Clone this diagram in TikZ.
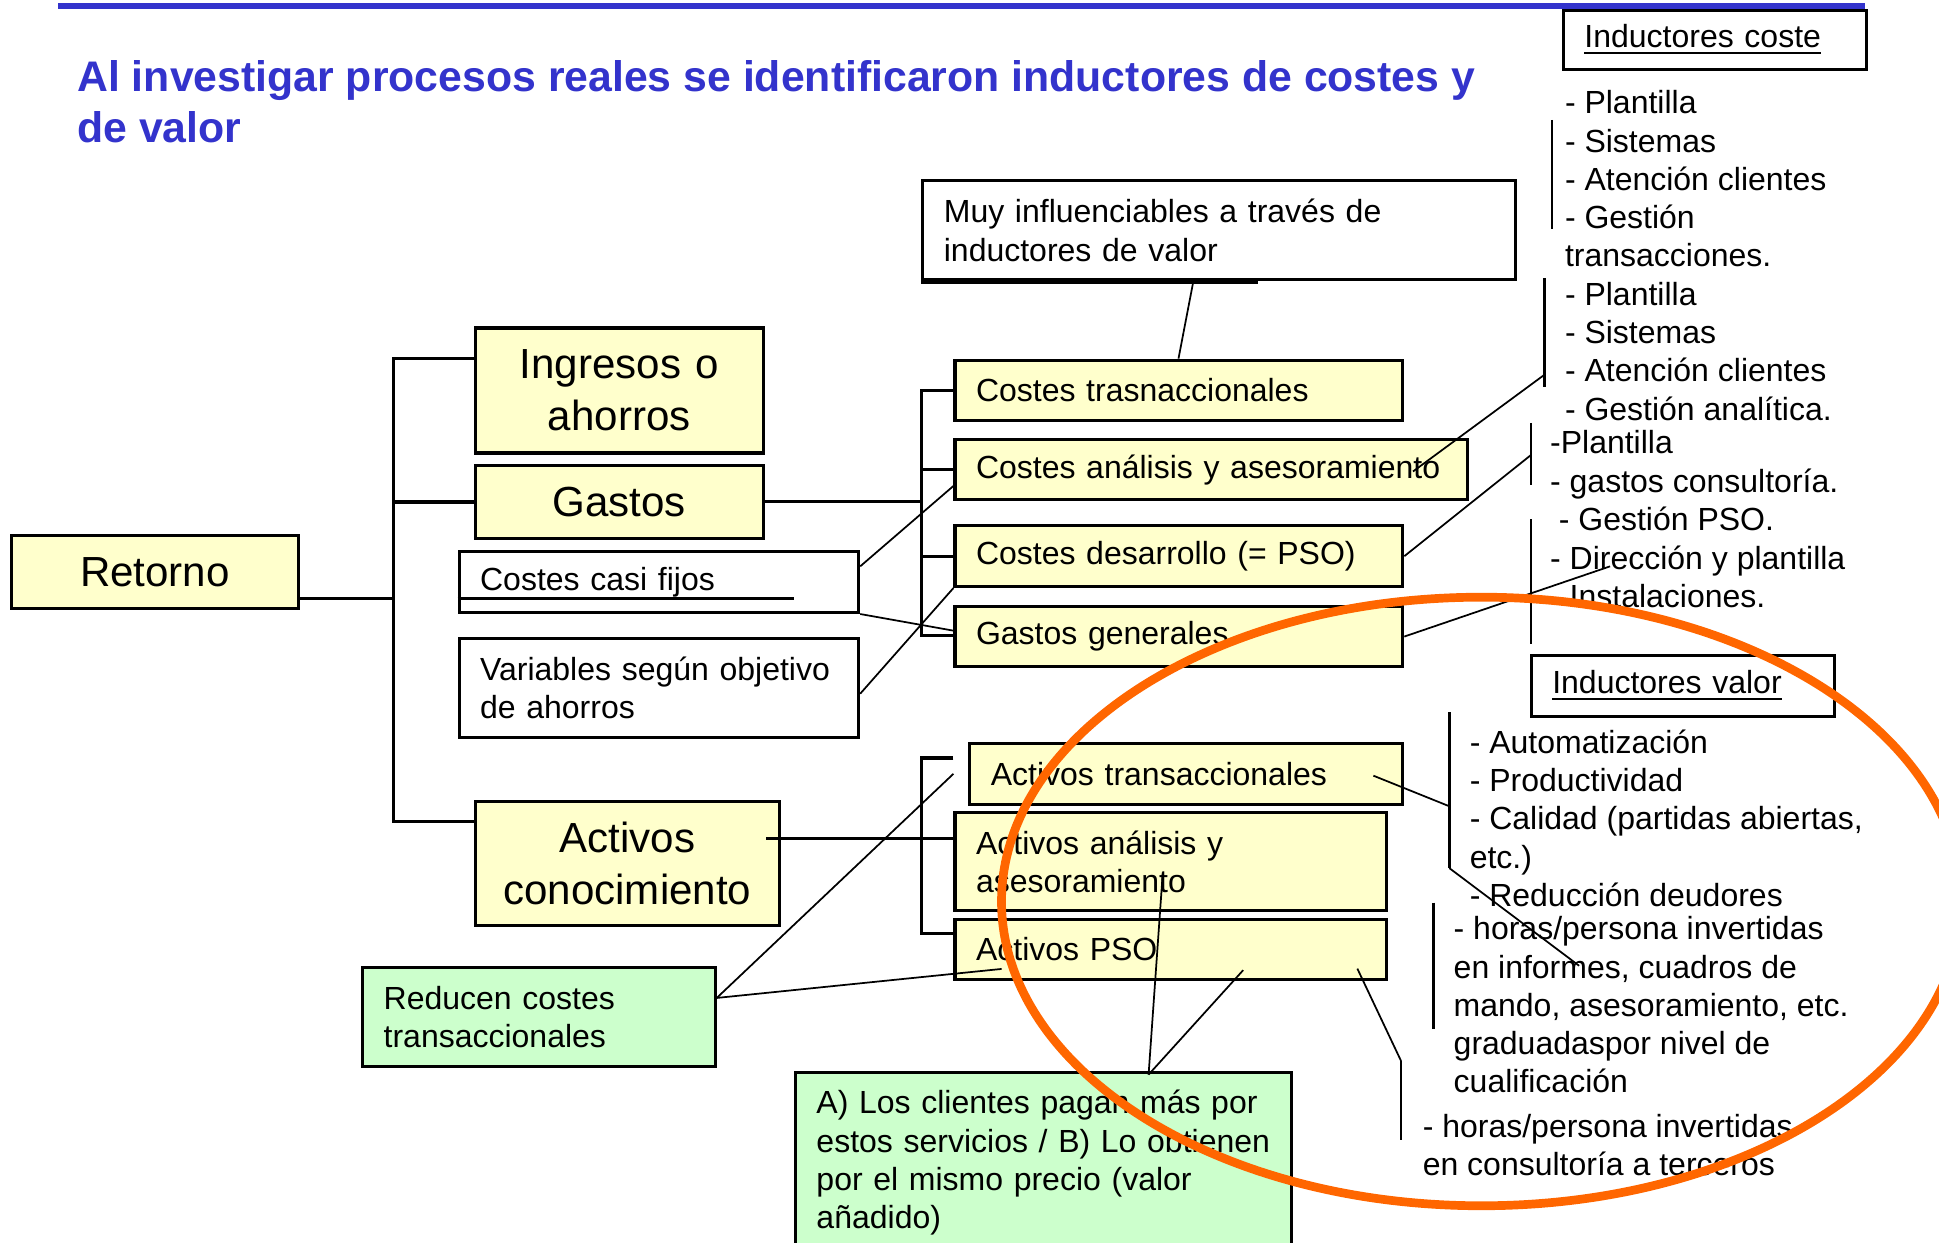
\documentclass[tikz,border=0pt]{standalone}
\usepackage{fontspec}
\setmainfont{Liberation Sans}
\usepackage{xcolor}
\usepackage{tikz}
\usetikzlibrary{positioning}

\definecolor{titleblue}{RGB}{51,51,204}
\definecolor{boxyellow}{RGB}{255,255,204}
\definecolor{boxgreen}{RGB}{204,255,204}
\definecolor{ringorange}{RGB}{255,102,0}

\begin{document}
\begin{tikzpicture}[
  x=0.0125cm,y=-0.0125cm,
  every node/.style={font=\fontsize{9.2}{11}\selectfont},
  box/.style={draw,line width=0.9pt,anchor=north west,inner xsep=0.2125cm,inner ysep=0pt,align=left},
  ybox/.style={box,fill=boxyellow},
  wbox/.style={box,fill=white},
  gbox/.style={box,fill=boxgreen},
  big/.style={font=\fontsize{12.1}{14.9}\selectfont,align=center},
  list/.style={anchor=north west,inner sep=0pt,align=left},
  tree/.style={line width=0.9pt},
  link/.style={line width=0.5pt},
  bar/.style={line width=0.8pt},
  ring/.style={draw=ringorange,line width=2.5pt}]
  \useasboundingbox (0,0) rectangle (1568,1005);
  \begin{scope}
  \clip (0,0) rectangle (1568,1005);
  \fill[titleblue] (47,2.7) rectangle (1508,7.5);
  \node[list,text=titleblue,font=\bfseries\fontsize{12.3}{14.6}\selectfont] (title) at (62,48.6)
    {Al investigar procesos reales se identificaron inductores de costes y\\de valor};

  % arbol de la izquierda
  \node[ybox,big,text width=2.475cm,minimum height=0.7375cm] (retorno) at (8,432) {Retorno};
  \node[ybox,big,text width=2.4875cm,minimum height=1.2625cm] (ingresos) at (383,264) {Ingresos o\\ahorros};
  \node[ybox,big,text width=2.4875cm,minimum height=0.7375cm] (gastos) at (383,375) {Gastos};
  \node[ybox,big,text width=2.65cm,minimum height=1.25cm] (activos) at (383,647) {Activos\\conocimiento};
  \node[wbox,text width=3.6125cm,minimum height=0.6125cm] (fijos) at (370,445) {Costes casi fijos};
  \node[wbox,text width=3.6125cm,minimum height=1cm] (variables) at (370,515) {Variables según objetivo\\de ahorros};
  \node[gbox,text width=3.1375cm,minimum height=1cm] (reducen) at (292,781) {Reducen costes\\transaccionales};

  % costes y activos
  \node[wbox,text width=5.5625cm,minimum height=1cm] (muy) at (745,145) {Muy influenciables a través de\\inductores de valor};
  \node[ybox,text width=4.1cm,minimum height=0.6125cm] (ctrans) at (771,290) {Costes trasnaccionales};
  \node[ybox,text width=4.75cm,minimum height=0.6125cm] (canal) at (771,354) {Costes análisis y asesoramiento};
  \node[ybox,text width=4.1cm,minimum height=0.6125cm] (cdes) at (771,424) {Costes desarrollo (= PSO)};
  \node[ybox,text width=4.1cm,minimum height=0.6125cm] (ggen) at (771,489) {Gastos generales};
  \node[ybox,text width=3.95cm,minimum height=0.6125cm] (atrans) at (783,600) {Activos transaccionales};
  \node[ybox,text width=3.9375cm,minimum height=0.9875cm] (aanal) at (771,656) {Activos análisis y\\asesoramiento};
  \node[ybox,text width=3.9375cm,minimum height=0.6125cm] (apso) at (771,742) {Activos PSO};
  \node[gbox,text width=4.5875cm,minimum height=1.825cm] (clientes) at (642,866)
    {A) Los clientes pagan más por\\estos servicios / B) Lo obtienen\\por el mismo precio (valor\\añadido)};

  % inductores
  \node[wbox,text width=2.6375cm,minimum height=0.6cm] (indcoste) at (1263,7) {\underline{Inductores coste}};
  \node[wbox,text width=2.6375cm,minimum height=0.6125cm] (indvalor) at (1237,529) {\underline{Inductores valor}};
  \node[list] (listA) at (1265,72.7) {- Plantilla\\- Sistemas\\- Atención clientes\\- Gestión\\transacciones.};
  \node[list] (listB) at (1265,227.7) {- Plantilla\\- Sistemas\\- Atención clientes\\- Gestión analítica.};
  \node[list] (listC) at (1253,347.7) {-Plantilla\\- gastos consultoría.\\\hspace*{2.5pt}- Gestión PSO.};
  \node[list] (listD) at (1253,440.7) {- Dirección y plantilla\\- Instalaciones.};
  \node[list] (listE) at (1188,589.7) {- Automatización\\- Productividad\\- Calidad (partidas abiertas,\\etc.)\\- Reducción deudores};
  \node[list] (listF) at (1175,740.7) {- horas/persona invertidas\\en informes, cuadros de\\mando, asesoramiento, etc.\\graduadaspor nivel de\\cualificación};
  \node[list] (listG) at (1150,900.7) {- horas/persona invertidas\\en consultoría a terceros};

  \foreach \n/\x/\ya/\yb in {A/1255/97/185,B/1249/225/313,C/1238/342/392,D/1238/420/521,
                            E/1172/576/702,F/1159/730/832,G/1133/858/922} {
    \coordinate (bar\n-top) at (\x,\ya);
    \coordinate (bar\n-bot) at (\x,\yb);
    \draw[bar] (bar\n-top) -- (bar\n-bot);
  }
  \coordinate (tipB) at (1249,303);
  \coordinate (tipC) at (1238,368);
  \coordinate (tipD) at (1302,458);
  \coordinate (tipE) at (1172,652);
  \coordinate (tipR) at (1277,781);

  \draw[line width=1.4pt] (muy.south west) -- ++(272,0);
  \draw[line width=0.8pt] (fijos.west |- 0,484) -- ++(272,0);

  \draw[tree] (retorno.east |- 0,484) -- (318,484);
  \draw[tree] (ingresos.west |- 0,290) -| (318,664) -- (activos.west |- 0,664);
  \draw[tree] (318,406) -- (gastos.west |- 0,406);
  \draw[tree] (gastos.east) -- (gastos.east -| 745,0);
  \draw[tree] (ctrans.west |- 0,316) -| (745,514) -- (ggen.west |- 0,514);
  \draw[tree] (745,380) -- (canal.west |- 0,380);
  \draw[tree] (745,450) -- (cdes.west |- 0,450);
  \draw[tree] (771,613) -| (745,755) -- (771,755);
  \draw[tree] ([xshift=-0.15cm]activos.east |- 0,678) -- (aanal.west |- 0,678);

  \draw[link] (muy.south -| 965,0) -- (ctrans.north -| 953,0);
  \draw[link] (fijos.east |- 0,458) -- (canal.west |- 0,393);
  \draw[link] (fijos.south east) -- (ggen.west |- 0,510);
  \draw[link] (variables.east |- 0,561) -- (cdes.south west);
  \draw[link] ([shift={(-45,1.5)}]canal.east) -- (tipB);
  \draw[link] (cdes.east) -- (tipC);
  \draw[link] (ggen.east) -- (tipD);
  \draw[link] ([shift={(-25,1.5)}]atrans.east) -- (tipE);
  \draw[link] (barE-bot) -- (tipR);
  \draw[link] ([shift={(-25,15.5)}]apso.east) -- (barG-top);
  \draw[link] ([shift={(85,3)}]clientes.north) -- ([shift={(-6.5,-32)}]aanal.south);
  \draw[link] ([shift={(85,3)}]clientes.north) -- ([shift={(58.5,-9)}]apso.south);
  \draw[link] (reducen.east |- 0,807) -- ([xshift=-0.15cm]atrans.west);
  \draw[link] (reducen.east |- 0,807) -- ([shift={(39,-10)}]apso.south west);

  \draw[ring] (1198,729) ellipse [x radius=4.85cm,y radius=3.075cm];
  \end{scope}
\end{tikzpicture}
\end{document}
